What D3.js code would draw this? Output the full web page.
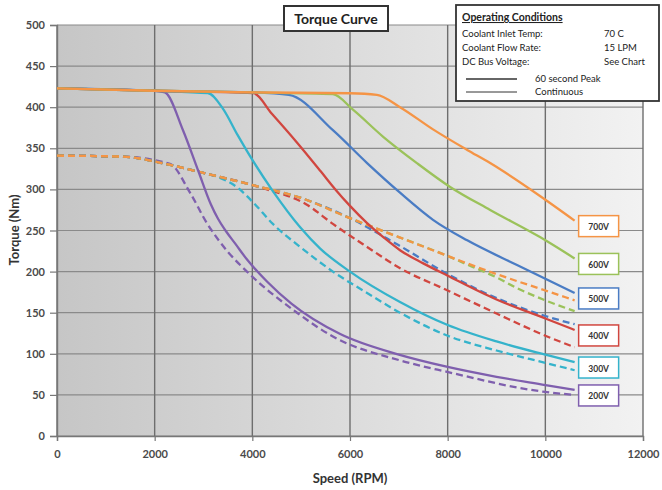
<!DOCTYPE html>
<html><head><meta charset="utf-8">
<script src="https://cdn.jsdelivr.net/npm/d3@7"></script>
<style>
html,body{margin:0;padding:0;background:#fff;}
svg{display:block;font-family:Lato,"Open Sans",sans-serif;}
</style></head>
<body><svg id="chart" width="662" height="490"></svg>
<script>
// ---- data ----
const xTicks = [0, 2000, 4000, 6000, 8000, 10000, 12000];
const yTicks = [0, 50, 100, 150, 200, 250, 300, 350, 400, 450, 500];
const voltages = ["200V", "300V", "400V", "500V", "600V", "700V"];

// 60 second peak (rpm, Nm)
const peak200 = [[0,423],[2000,420],[2210,418],[2580,372],[2890,323],[3150,282],[3300,264],[3450,250],[3650,234],[3900,214],[4300,188],[4800,161],[5800,124],[7000,99],[8000,84],[9000,72],[10000,62],[10600,56]];
const peak300 = [[0,423],[2000,420],[3090,417],[3400,398],[3700,366],[4020,334],[4420,298],[4980,254],[5390,228],[6000,200],[7024,163],[8000,135],[9000,115],[10000,99],[10600,90]];
const peak400 = [[0,423],[2000,420],[4020,417],[4400,392],[4900,358],[5400,322],[5700,300],[6000,280],[6350,259],[6700,241],[7024,226],[7500,210],[8000,195],[9000,166],[10000,143],[10600,129]];
const peak500 = [[0,423],[2000,420],[4000,418],[4750,415],[5650,372],[6350,332],[7024,296],[7700,263],[8400,238],[9420,208],[10600,174]];
const peak600 = [[0,423],[2000,420],[4000,418],[5650,416],[6060,397],[6680,364],[7370,332],[8050,303],[8870,275],[9890,242],[10600,216]];
const peak700 = [[0,423],[2000,420],[4000,418],[6000,417],[6550,415],[7024,400],[7700,373],[8400,348],[8870,332],[9890,292],[10600,262]];

// continuous (rpm, Nm)
const cont200 = [[0,341],[1300,340],[2314,331],[2724,296],[3070,259],[3500,224],[3890,200],[4915,150],[5650,121],[7024,92],[7990,78],[9950,54],[10600,50]];
const cont300 = [[0,341],[1300,340],[2300,330],[2930,321],[3300,315],[3700,302],[4020,284],[4420,258],[4980,230],[5650,200],[6350,174],[7024,150],[8000,122],[9000,104],[10000,89],[10600,80]];
const cont400 = [[0,341],[1300,340],[2300,330],[2930,321],[4020,305],[4300,300],[5100,282],[5650,258],[6350,230],[7000,205],[8000,177],[9000,149],[10000,122],[10600,108]];
const cont500 = [[0,341],[1300,340],[2300,330],[2930,321],[4020,305],[4980,290],[6000,265],[7000,232],[8000,197],[9070,166],[10000,146],[10600,136]];
const cont600 = [[0,341],[1300,340],[2300,330],[2930,321],[4020,305],[4980,290],[6000,265],[7000,242],[8000,219],[8500,206],[9000,193],[9420,180],[10000,165],[10600,152]];
const cont700 = [[0,341],[1300,340],[2300,330],[2930,321],[4020,305],[4980,290],[6000,265],[7000,242],[8000,219],[9000,197],[10000,177],[10600,165]];

const conditions = [["Coolant Inlet Temp:", "70 C"], ["Coolant Flow Rate:", "15 LPM"], ["DC Bus Voltage:", "See Chart"]];
const lineTypes = ["60 second Peak", "Continuous"];

// ---- styles ----
const colors = {"200V":"#7f5fae","300V":"#35b3cb","400V":"#d1463f","500V":"#4a7cc4","600V":"#9bc25a","700V":"#f59445"};
const peaks = {"200V":peak200,"300V":peak300,"400V":peak400,"500V":peak500,"600V":peak600,"700V":peak700};
const conts = {"200V":cont200,"300V":cont300,"400V":cont400,"500V":cont500,"600V":cont600,"700V":cont700};

const svg = d3.select("#chart");
const L = 57, R = 643, T = 25, B = 436;
const x = d3.scaleLinear().domain([0, 12000]).range([L, R]);
const y = d3.scaleLinear().domain([0, 500]).range([B, T]);

const defs = svg.append("defs");
const grad = defs.append("linearGradient").attr("id","bg").attr("x1","0").attr("x2","1").attr("y1","0").attr("y2","0");
grad.append("stop").attr("offset","0").attr("stop-color","#c6c6c6");
grad.append("stop").attr("offset","0.5").attr("stop-color","#dcdcdc");
grad.append("stop").attr("offset","1").attr("stop-color","#f2f2f2");

svg.append("rect").attr("x", L).attr("y", T).attr("width", R - L).attr("height", B - T).attr("fill", "url(#bg)");

// gridlines
svg.append("g").selectAll("line").data(yTicks).join("line")
  .attr("x1", L).attr("x2", R).attr("y1", d => y(d)).attr("y2", d => y(d))
  .attr("stroke", "#8a8a8a").attr("stroke-width", 1.2);
svg.append("g").selectAll("line").data(xTicks).join("line")
  .attr("x1", d => x(d)).attr("x2", d => x(d)).attr("y1", T).attr("y2", B)
  .attr("stroke", "#6e6e6e").attr("stroke-width", 1.4);

// axes
const yAxis = svg.append("g").attr("transform", `translate(${L},0)`)
  .call(d3.axisLeft(y).tickValues(yTicks).tickSize(7).tickPadding(5));
const xAxis = svg.append("g").attr("transform", `translate(0,${B})`)
  .call(d3.axisBottom(x).tickValues(xTicks).tickSize(5).tickPadding(9).tickFormat(d3.format("d")));
[yAxis, xAxis].forEach(g => {
  g.select(".domain").attr("stroke", "#777").attr("stroke-width", 1.4);
  g.selectAll(".tick line").attr("stroke", "#777").attr("stroke-width", 1.2);
  g.selectAll(".tick text").attr("fill", "#4a4a4a").attr("font-size", 11).attr("font-weight", "bold")
    .attr("font-family", "Lato, 'Open Sans', sans-serif");
});

// curves
const line = d3.line().x(d => x(d[0])).y(d => y(d[1])).curve(d3.curveMonotoneX);
const gLines = svg.append("g");
voltages.forEach(v => {
  gLines.append("path").attr("d", line(conts[v])).attr("fill", "none")
    .attr("stroke", colors[v]).attr("stroke-width", 2.3).attr("stroke-dasharray", "7,4");
});
voltages.forEach(v => {
  gLines.append("path").attr("d", line(peaks[v])).attr("fill", "none")
    .attr("stroke", colors[v]).attr("stroke-width", 2.3);
});

// voltage label boxes
voltages.forEach(v => {
  const p = peaks[v];
  const last = p[p.length - 1];
  const cy = y(last[1]) + 6;
  const bx = x(last[0]) + 4;
  svg.append("rect").attr("x", bx).attr("y", cy - 11).attr("width", 40).attr("height", 21)
    .attr("fill", "#fff").attr("stroke", colors[v]).attr("stroke-width", 1.5);
  svg.append("text").attr("x", bx + 20).attr("y", cy + 3.5).attr("text-anchor", "middle")
    .attr("font-size", 8.5).attr("font-weight", "bold").attr("fill", "#333").text(v);
});

// title box
svg.append("rect").attr("x", 284).attr("y", 6).attr("width", 104).attr("height", 25)
  .attr("fill", "#fff").attr("stroke", "#333").attr("stroke-width", 2);
svg.append("text").attr("x", 336).attr("y", 24).attr("text-anchor", "middle")
  .attr("font-size", 14).attr("font-weight", "bold").attr("fill", "#222").text("Torque Curve");

// conditions legend box
const lg = svg.append("g");
lg.append("rect").attr("x", 456).attr("y", 5).attr("width", 203).attr("height", 96)
  .attr("fill", "#fff").attr("stroke", "#333").attr("stroke-width", 1.8);
lg.append("text").attr("x", 462).attr("y", 21).attr("font-size", 10.5).attr("font-weight", "bold")
  .attr("fill", "#222").attr("text-decoration", "underline").text("Operating Conditions");
conditions.forEach((c, i) => {
  lg.append("text").attr("x", 462).attr("y", 37 + i * 14).attr("font-size", 9.5).attr("fill", "#222").text(c[0]);
  lg.append("text").attr("x", 604).attr("y", 37 + i * 14).attr("font-size", 9.5).attr("fill", "#222").text(c[1]);
});
lineTypes.forEach((t, i) => {
  const yy = 79 + i * 13;
  lg.append("line").attr("x1", 466).attr("x2", 517).attr("y1", yy).attr("y2", yy)
    .attr("stroke", "#333").attr("stroke-width", i === 0 ? 1.4 : 1);
  lg.append("text").attr("x", 535).attr("y", yy + 3).attr("font-size", 9.5).attr("fill", "#222").text(t);
});

// axis titles
svg.append("text").attr("transform", "translate(19,230) rotate(-90)").attr("text-anchor", "middle")
  .attr("font-size", 13).attr("font-weight", "bold").attr("fill", "#333").text("Torque (Nm)");
svg.append("text").attr("x", 350).attr("y", 483).attr("text-anchor", "middle")
  .attr("font-size", 13).attr("font-weight", "bold").attr("fill", "#333").text("Speed (RPM)");
</script>
</body></html>
